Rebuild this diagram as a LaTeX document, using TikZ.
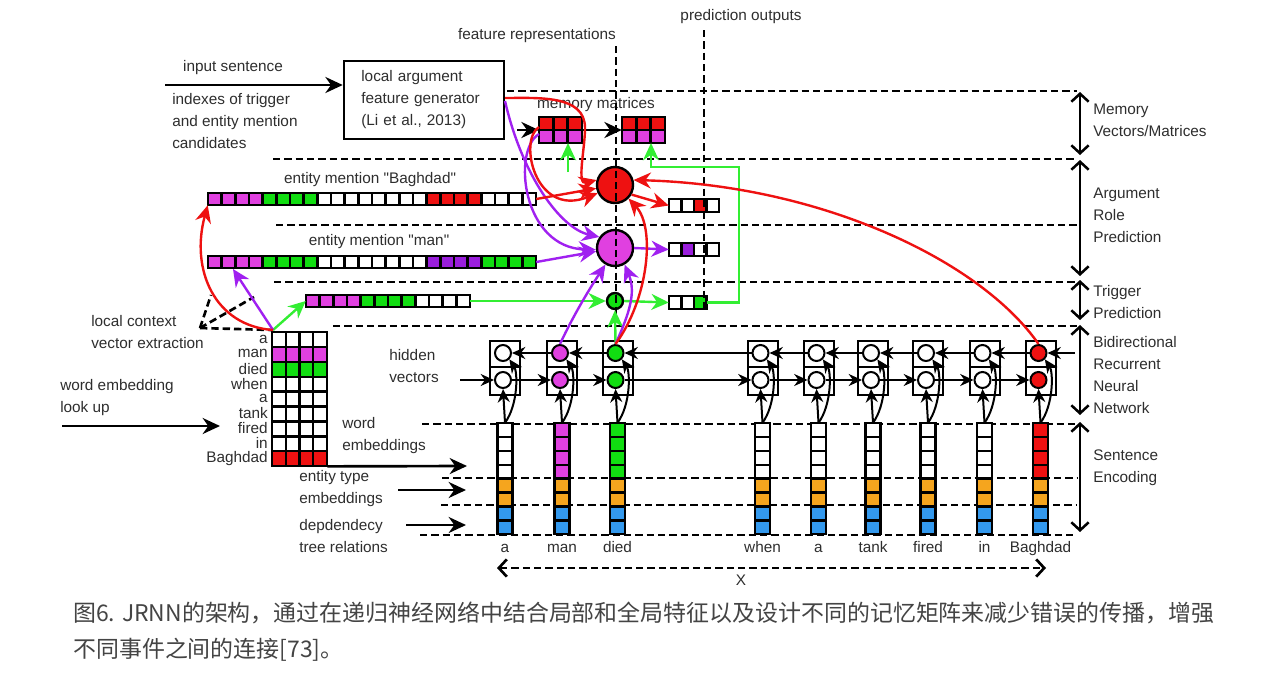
\documentclass[tikz,border=0pt]{standalone}
\usepackage{fontspec}
\setmainfont{Liberation Sans}
\newfontfamily\cjkfont{Noto Sans CJK SC}
\usetikzlibrary{arrows.meta,fit,calc}
\definecolor{cM}{HTML}{E040E0}
\definecolor{cG}{HTML}{11DD11}
\definecolor{cR}{HTML}{EE1111}
\definecolor{cP}{HTML}{9A1EDC}
\definecolor{cO}{HTML}{F5A51E}
\definecolor{cB}{HTML}{3399EE}
\definecolor{aR}{HTML}{EE1111}
\definecolor{aP}{HTML}{A020F0}
\definecolor{aG}{HTML}{33EE33}
\definecolor{txt}{HTML}{2E2E2E}
\definecolor{capc}{HTML}{444444}
\tikzset{
  cellline/.style={draw=black,line width=1.8pt},
  dline/.style={line width=2pt,dash pattern=on 5.5pt off 3pt},
  barr/.style={line width=2pt,-{Stealth[length=13pt,width=12pt]}},
  harr/.style={line width=1.5pt,-{Stealth[length=10pt,width=9pt]}},
  carr/.style={line width=1.8pt,-{Stealth[length=13pt,width=12pt]}},
  ra/.style={carr,color=aR},
  pa/.style={carr,color=aP},
  ga/.style={carr,color=aG},
  hbox/.style={draw=black,line width=1.5pt},
  hcirc/.style={circle,draw=black,line width=1.5pt,minimum size=12pt,inner sep=0pt},
  bigc/.style={circle,draw=black,line width=1.8pt,minimum size=27pt,inner sep=0pt},
  dbl/.style={line width=1.9pt,{Straight Barb[length=6pt,width=13pt]}-{Straight Barb[length=6pt,width=13pt]}},
  lbl/.style={inner sep=0pt,align=left,anchor=west},
  bx/.style={inner sep=0pt},
}
\newcommand\cellrow[5]{\foreach \kk [count=\ii from 0] in {#5}{\draw[cellline,fill=\kk] ({#1+\ii*#3},{#2}) rectangle ({#1+(\ii+1)*#3},{#2+#4});}}
\newcommand\cellcol[5]{\foreach \kk [count=\ii from 0] in {#5}{\draw[cellline,fill=\kk] ({#1},{#2+\ii*#4}) rectangle ({#1+#3},{#2+(\ii+1)*#4});}}
\begin{document}
\begin{tikzpicture}[x=0.75pt,y=-0.75pt,font=\fontsize{11.5}{16.5}\selectfont,text=txt]
\useasboundingbox (0,0) rectangle (1276,682);
\fill[white] (0,0) rectangle (1276,682);

% horizontal dashed separators
\draw[dline] (507,91) -- (1077,91);
\draw[dline] (273,159) -- (1077,159);
\draw[dline] (276,225) -- (1077,225);
\draw[dline] (274,282) -- (1077,282);
\draw[dline] (333,326) -- (1077,326);
\draw[dline] (422,424) -- (1077,424);
\draw[dline] (442,478) -- (1077,478);
\draw[dline] (441,505) -- (1077,505);
\draw[dline] (420,535) -- (1077,535);

% top texts
\node[bx] (tin) at (233,68) {input sentence};
\node[lbl] (tidx) at (172,121) {indexes of trigger\\and entity mention\\candidates};
\node[draw,line width=1.9pt,minimum width=120pt,minimum height=58.5pt,text width=94pt,align=left,inner xsep=13pt] (gen) at (424,100) {local argument\\feature generator\\(Li et al., 2013)};
\node[bx] (tfeat) at (537,36) {feature representations};
\node[bx] (tpred) at (741,17) {prediction outputs};
\node[bx] (tmem) at (596,105) {memory matrices};
\node[bx] (tbag) at (370,180) {entity mention \textquotedbl Baghdad\textquotedbl};
\node[bx] (tman) at (379,242) {entity mention \textquotedbl man\textquotedbl};
\node[lbl] (tlc) at (91,332) {local context\\vector extraction};
\node[lbl] (twe) at (60,398) {word embedding\\look up};
\node[lbl] (thv) at (389,366) {hidden\\vectors};
\node[lbl] (twd) at (342,436) {word\\embeddings};
\node[lbl] (tet) at (299,489) {entity type\\embeddings};
\node[lbl] (tdp) at (299,536) {depdendecy\\tree relations};

% memory matrices
\cellrow{539}{117}{14.33}{13}{cR,cR,cR}
\cellrow{539}{130}{14.33}{13}{cM,cM,cM}
\node[fit={(539,117)(582,143)},inner sep=0pt] (mem1) {};
\cellrow{622}{117}{14.33}{13}{cR,cR,cR}
\cellrow{622}{130}{14.33}{13}{cM,cM,cM}
\node[fit={(622,117)(665,143)},inner sep=0pt] (mem2) {};

% entity bars
\cellrow{208}{193}{13.667}{12}{cM,cM,cM,cM,cG,cG,cG,cG,white,white,white,white,white,white,white,white,cR,cR,cR,cR,white,white,white,white}
\node[fit={(208,193)(536,205)},inner sep=0pt] (bag) {};
\cellrow{208}{256}{13.667}{12}{cM,cM,cM,cM,cG,cG,cG,cG,white,white,white,white,white,white,white,white,cP,cP,cP,cP,cG,cG,cG,cG}
\node[fit={(208,256)(536,268)},inner sep=0pt] (man) {};
\cellrow{306}{295}{13.667}{12}{cM,cM,cM,cM,cG,cG,cG,cG,white,white,white,white}
\node[fit={(306,295)(470,307)},inner sep=0pt] (trig) {};

% outputs
\cellrow{669}{199}{12.5}{13}{white,white,cR,white}
\node[fit={(669,199)(719,212)},inner sep=0pt] (rout) {};
\cellrow{669}{243}{12.5}{13}{white,cP,white,white}
\node[fit={(669,243)(719,256)},inner sep=0pt] (pout) {};
\cellrow{669}{296}{12.5}{13}{white,white,cG}
\node[fit={(669,296)(706.5,309)},inner sep=0pt] (gout) {};

% prediction circles
\node[bigc,fill=cR] (rc) at (615,185) {};
\node[bigc,fill=cM] (mc) at (615,248) {};
\node[circle,draw=black,line width=1.8pt,fill=cG,minimum size=12pt,inner sep=0pt] (gc) at (615,301) {};

% vertical dashed lines
\draw[dline] (616,46) -- (616,322);
\draw[dline] (704,30) -- (704,312);

% word matrix
\foreach \rc [count=\r from 0] in {white,cM,cG,white,white,white,white,white,cR}{\cellrow{272}{332+\r*14.9}{13.75}{14.9}{\rc,\rc,\rc,\rc}}
\node[fit={(272,332)(327,466.1)},inner sep=0pt] (wm) {};
\foreach \w [count=\r from 0] in {a,man,died,when,a,tank,fired,in,Baghdad}{\node[anchor=east,inner sep=0pt] (ml\r) at (268,{339+\r*14.9}) {\w};}

% columns and hidden units
\foreach \cx/\clr/\n/\w in {505/white/1/a,562/cM/2/man,617.5/cG/3/died,762.5/white/4/when,818.5/white/5/a,873/white/6/tank,928/white/7/fired,984.5/white/8/in,1040.5/cR/9/Baghdad}{
  \cellcol{\cx-7.5}{423}{15}{13.9}{\clr,\clr,\clr,\clr,cO,cO,cB,cB}
  \node[fit={({\cx-7.5},423)({\cx+7.5},534.2)},inner sep=0pt] (wc\n) {};
  \node[anchor=base,inner sep=0pt] (wl\n) at (\cx,552) {\w};
  \draw[hbox] ({\cx-15},341) rectangle ({\cx+15},367);
  \draw[hbox] ({\cx-15},367) rectangle ({\cx+15},395);
  \node[hcirc,fill=\clr] (ht\n) at ({\cx-2},353) {};
  \node[hcirc,fill=\clr] (hb\n) at ({\cx-2},380) {};
  \draw[harr] (wc\n.north) -- (hb\n.south);
  \draw[harr] (wc\n.north) .. controls ({\cx+13},405) and ({\cx+13},372) .. (ht\n.south east);
}
\foreach \a/\b in {1/2,2/3,3/4,4/5,5/6,6/7,7/8,8/9}{
  \draw[harr] (ht\b) -- (ht\a);
  \draw[harr] (hb\a) -- (hb\b);
}
\coordinate (hin) at (460,380);
\coordinate (hin2) at (1075,353);
\draw[harr] (hin) -- (hb1);
\draw[harr] (hin2) -- (ht9);

% black input arrows
\coordinate (ins) at (165,85);
\draw[barr] (ins) -- (ins -| gen.west);
\coordinate (m1a) at (517,130);
\draw[barr] (m1a) -- (mem1.west);
\draw[barr] (mem1.east) -- (mem2.west);
\coordinate (wl1a) at (62,426);
\coordinate (wl2a) at (220,426);
\draw[barr] (wl1a) -- (wl2a);
\coordinate (we2) at (467,466);
\draw[barr] (wm.south east) -- (we2);
\coordinate (et1) at (398,490);
\coordinate (et2) at (466,490);
\draw[barr] (et1) -- (et2);
\coordinate (dp1) at (406,525);
\coordinate (dp2) at (466,525);
\draw[barr] (dp1) -- (dp2);

% X arrow
\coordinate (xl) at (497,568);
\coordinate (xr) at (1046,568);
\draw[dline,{Straight Barb[length=6pt,width=13pt]}-{Straight Barb[length=6pt,width=13pt]}] (xl) -- (xr);
\node[bx] (tx) at (741,580) {X};

% local context dashed lines
\coordinate (wmTL) at (273,330);
\coordinate (lc) at (200,328);
\coordinate (lc2) at (254,297);
\coordinate (lc3) at (211,295);
\draw[dline] (lc) -- (wmTL);
\draw[dline] (lc) -- (lc2);
\draw[dline] (lc) -- (lc3);

% green connectors
\draw[ga] (wmTL) -- (trig.west);
\draw[ga] (trig.east) -- (gc.west);
\draw[ga] (gc.east) -- (gout.west);
\draw[ga] (ht3.north) -- (gc.south);
\coordinate (gk) at (739,167);
\coordinate (m2b) at (651,167);
\coordinate (m2in) at (651,143);
\draw[ga] (gout.east) -| (gk) -- (m2b) -- (m2in);
\coordinate (m1g) at (568,172);
\coordinate (m1in) at (568,143);
\draw[ga] (m1g) -- (m1in);

% purple connectors
\coordinate (manin) at (233,269);
\draw[pa] (wmTL) -- (manin);
\coordinate (genP) at (505,101);
\coordinate (m1p) at (539,134);
\draw[pa] (genP) .. controls (522,175) and (560,228) .. (mc.145);
\draw[pa] (m1p) .. controls (512,150) and (522,248) .. (mc.185);
\draw[pa] (man.east) -- (mc);
\draw[pa] (mc.east) -- (pout.west);
\draw[pa] (ht2.north) .. controls (575,312) and (592,285) .. (mc.240);
\draw[pa] (ht3.north) .. controls (630,312) and (636,292) .. (mc.-60);

% red connectors
\draw[ra] (wmTL) .. controls (215,326) and (190,270) .. (bag.south west);
\coordinate (genR) at (505,98);
\coordinate (m1r) at (539,127);
\coordinate (rk) at (585,128);
\draw[ra] (genR) to[out=0,in=90] (rk) to[out=-90,in=195] (rc.165);
\draw[ra] (m1r) .. controls (518,140) and (535,218) .. (rc.205);
\draw[ra] (bag.east) -- (rc);
\draw[ra] (rc.-30) -- (rout.west);
\draw[ra] (ht3.north) .. controls (648,300) and (656,228) .. (rc.-45);
\draw[ra] (ht9.north) .. controls (980,260) and (820,185) .. (rc.15);

% right side
\coordinate (r1a) at (1080,92); \coordinate (r1b) at (1080,155);
\coordinate (r2a) at (1080,160); \coordinate (r2b) at (1080,276);
\coordinate (r3a) at (1080,280); \coordinate (r3b) at (1080,320);
\coordinate (r4a) at (1080,325); \coordinate (r4b) at (1080,415);
\coordinate (r5a) at (1080,422); \coordinate (r5b) at (1080,532);
\draw[dbl] (r1a) -- (r1b);
\draw[dbl] (r2a) -- (r2b);
\draw[dbl] (r3a) -- (r3b);
\draw[dbl] (r4a) -- (r4b);
\draw[dbl] (r5a) -- (r5b);
\node[lbl] (s1) at (1093,120.5) {Memory\\Vectors/Matrices};
\node[lbl] (s2) at (1093,215) {Argument\\Role\\Prediction};
\node[lbl] (s3) at (1093,302.5) {Trigger\\Prediction};
\node[lbl] (s4) at (1093,375) {Bidirectional\\Recurrent\\Neural\\Network};
\node[lbl] (s5) at (1093,467.5) {Sentence\\Encoding};

% caption
\node[anchor=west,inner sep=0pt,font=\cjkfont\fontsize{17.2}{22}\selectfont,text=capc] (cap1) at (73,613) {图6. JRNN的架构，通过在递归神经网络中结合局部和全局特征以及设计不同的记忆矩阵来减少错误的传播，增强};
\node[anchor=west,inner sep=0pt,font=\cjkfont\fontsize{17.2}{22}\selectfont,text=capc] (cap2) at (73,650) {不同事件之间的连接[73]。};
\end{tikzpicture}
\end{document}
